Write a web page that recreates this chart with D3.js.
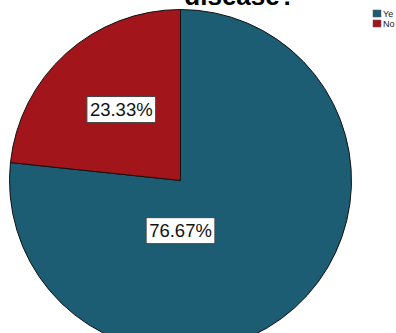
<!DOCTYPE html>
<html>
<head>
<meta charset="utf-8">
<script src="https://cdn.jsdelivr.net/npm/d3@7"></script>
<style>
  body { margin: 0; background: #fff; }
  svg { display: block; font-family: "Liberation Sans", Arial, sans-serif; }
</style>
</head>
<body>
<div id="chart"></div>
<script>
const width = 396;
const height = 333;

const categories = ["Yes", "No"];
const legendLabels = ["Ye", "No"];
const percents = [76.67, 23.33];
const colors = ["#1d5d73", "#a2161b"];

const svg = d3.select("#chart").append("svg")
  .attr("width", width)
  .attr("height", height);

// title, mostly cut off by the top edge (as in the reference)
svg.append("text")
  .attr("x", 240)
  .attr("y", 5)
  .attr("text-anchor", "middle")
  .attr("font-size", 26)
  .attr("font-weight", "bold")
  .text("disease?");

const cx = 180.5, cy = 180.5, r = 171;

const data = categories.map((c, i) => ({ cat: c, value: percents[i], color: colors[i] }));

// "Yes" clockwise from 12 o'clock, "No" fills the rest
const pie = d3.pie().sort(null).value(d => d.value);
const arcs = pie(data);
const arc = d3.arc().innerRadius(0).outerRadius(r);

const g = svg.append("g").attr("transform", `translate(${cx},${cy})`);

g.selectAll("path")
  .data(arcs)
  .enter()
  .append("path")
  .attr("d", arc)
  .attr("fill", d => d.data.color)
  .attr("stroke", "#111")
  .attr("stroke-width", 1);

// label positions (SPSS puts the big slice label just below center)
const labelArc = d3.arc().innerRadius(0).outerRadius(186);
function labelPos(d, i) {
  if (i === 0) return [0, 50];
  const c = labelArc.centroid(d);
  return [c[0] + 3, c[1] - 2];
}

const labels = g.selectAll("g.lbl")
  .data(arcs)
  .enter()
  .append("g")
  .attr("class", "lbl")
  .attr("transform", (d, i) => `translate(${labelPos(d, i)})`);

labels.append("text")
  .attr("text-anchor", "middle")
  .attr("dy", "0.36em")
  .attr("font-size", 18.5)
  .attr("fill", "#111")
  .text(d => d.data.value.toFixed(2) + "%")
  .each(function () {
    const b = this.getBBox();
    d3.select(this.parentNode).insert("rect", "text")
      .attr("x", b.x - 3)
      .attr("y", b.y - 2.5)
      .attr("width", b.width + 6)
      .attr("height", b.height + 5)
      .attr("fill", "#fff")
      .attr("stroke", "#444")
      .attr("stroke-width", 1);
  });

// legend
const legend = svg.append("g").attr("transform", "translate(373,10)");
const items = legend.selectAll("g")
  .data(data)
  .enter()
  .append("g")
  .attr("transform", (d, i) => `translate(0,${i * 10})`);

items.append("rect")
  .attr("width", 8)
  .attr("height", 7)
  .attr("fill", d => d.color)
  .attr("stroke", "#555")
  .attr("stroke-width", 0.5);

items.append("text")
  .attr("x", 10)
  .attr("y", 7)
  .attr("font-size", 9)
  .attr("fill", "#222")
  .text((d, i) => legendLabels[i]);
</script>
</body>
</html>
